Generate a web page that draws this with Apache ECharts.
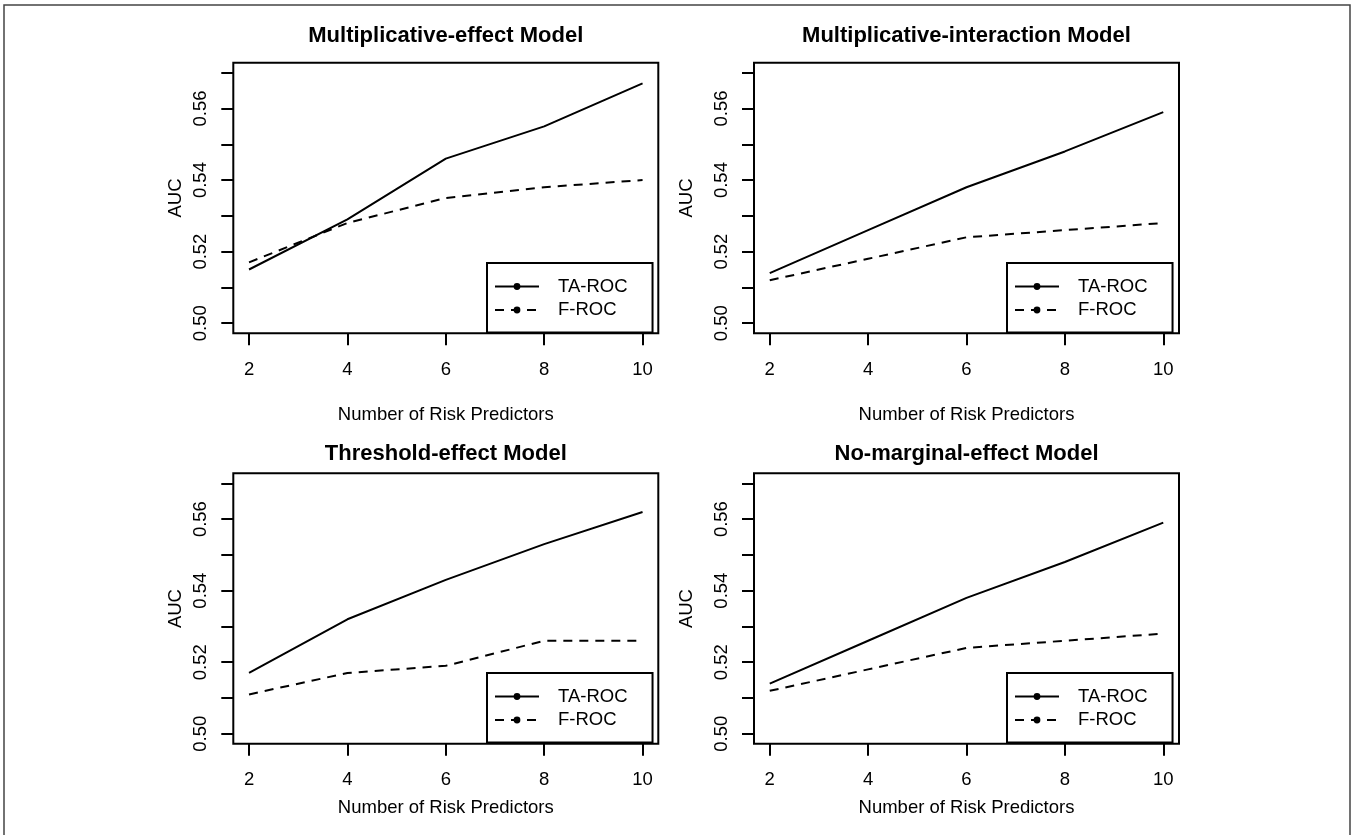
<!DOCTYPE html>
<html><head><meta charset="utf-8">
<script src="https://cdn.jsdelivr.net/npm/echarts@6/dist/echarts.min.js"></script>
<style>html,body{margin:0;padding:0;background:#fff}#c{width:1352px;height:835px}</style>
</head><body><div id="c"></div>
<script>
// ---- data ----
const xValues = [2, 4, 6, 8, 10];
const xTicks = [2, 4, 6, 8, 10];
const yTicks = [0.50, 0.51, 0.52, 0.53, 0.54, 0.55, 0.56, 0.57];
const yLabels = [0.50, 0.52, 0.54, 0.56];
const seriesNames = ['TA-ROC', 'F-ROC'];
const panelTitles = ['Multiplicative-effect Model', 'Multiplicative-interaction Model', 'Threshold-effect Model', 'No-marginal-effect Model'];
const xAxisTitle = 'Number of Risk Predictors';
const yAxisTitle = 'AUC';

const taMultEffect = [0.515, 0.529, 0.546, 0.555, 0.567];
const fMultEffect  = [0.517, 0.528, 0.535, 0.538, 0.540];
const taMultInter  = [0.514, 0.526, 0.538, 0.548, 0.559];
const fMultInter   = [0.512, 0.518, 0.524, 0.526, 0.528];
const taThreshold  = [0.517, 0.532, 0.543, 0.553, 0.562];
const fThreshold   = [0.511, 0.517, 0.519, 0.526, 0.526];
const taNoMarginal = [0.514, 0.526, 0.538, 0.548, 0.559];
const fNoMarginal  = [0.512, 0.518, 0.524, 0.526, 0.528];

// ---- layout ----
const FONT = '"Liberation Sans", Arial, Helvetica, sans-serif';
const GW = 425, GH = 270.5;
const panels = [
  {title: panelTitles[0], ta: taMultEffect, f: fMultEffect, left: 233.3, top: 62.7, titleTop: 24.5, legendLeft: 487, legendTop: 263, yNameGap: 48, xNameGap: 72},
  {title: panelTitles[1], ta: taMultInter,  f: fMultInter,  left: 754,   top: 62.7, titleTop: 24.5, legendLeft: 1007, legendTop: 263, yNameGap: 58, xNameGap: 72},
  {title: panelTitles[2], ta: taThreshold,  f: fThreshold,  left: 233.3, top: 473.3, titleTop: 442.5, legendLeft: 487, legendTop: 673, yNameGap: 48, xNameGap: 55},
  {title: panelTitles[3], ta: taNoMarginal, f: fNoMarginal, left: 754,   top: 473.3, titleTop: 442.5, legendLeft: 1007, legendTop: 673, yNameGap: 58, xNameGap: 55}
];
const txt = {color: '#000', fontFamily: FONT, fontSize: 18.5};
const DASH = [9, 7];

const option = {
  animation: false,
  backgroundColor: '#fff',
  title: panels.map(p => ({
    text: p.title, left: p.left + GW / 2, top: p.titleTop, textAlign: 'center', padding: 0,
    textStyle: {color: '#000', fontFamily: FONT, fontSize: 22, fontWeight: 'bold'}
  })),
  grid: panels.map(p => ({
    left: p.left, top: p.top, width: GW, height: GH, show: true,
    borderColor: '#000', borderWidth: 2, backgroundColor: 'transparent',
    containLabel: false, outerBoundsMode: 'none'
  })),
  xAxis: panels.map((p, i) => ({
    type: 'value', gridIndex: i, min: 1.68, max: 10.32,
    axisLine: {show: false}, splitLine: {show: false},
    axisTick: {show: true, inside: false, length: 12, customValues: xTicks, lineStyle: {color: '#000', width: 2}},
    axisLabel: {show: true, customValues: xTicks, margin: 27, ...txt},
    name: xAxisTitle, nameLocation: 'middle', nameGap: p.xNameGap, nameTextStyle: {...txt}
  })),
  yAxis: panels.map((p, i) => ({
    type: 'value', gridIndex: i, min: 0.4972, max: 0.5728,
    axisLine: {show: false}, splitLine: {show: false},
    axisTick: {show: true, inside: false, length: 12, customValues: yTicks, lineStyle: {color: '#000', width: 2}},
    axisLabel: {show: true, customValues: yLabels, rotate: 90, margin: 23, formatter: v => v.toFixed(2), ...txt},
    name: yAxisTitle, nameLocation: 'middle', nameRotate: 90, nameGap: p.yNameGap, nameTextStyle: {...txt}
  })),
  legend: panels.map(p => ({
    data: seriesNames, orient: 'vertical', left: p.legendLeft, top: p.legendTop,
    itemWidth: 44, itemHeight: 8.5, itemGap: 4.5, padding: [14, 25, 13, 7],
    backgroundColor: '#fff', borderColor: '#000', borderWidth: 2, borderRadius: 0,
    selectedMode: false, z: 10,
    textStyle: {...txt, padding: [0, 0, 0, 14]}
  })),
  series: panels.flatMap((p, i) => [
    {
      name: seriesNames[0], type: 'line', xAxisIndex: i, yAxisIndex: i,
      data: xValues.map((x, k) => [x, p.ta[k]]),
      symbol: 'circle', showSymbol: false, smooth: false,
      lineStyle: {color: '#000', width: 2, type: 'solid'}, itemStyle: {color: '#000'}
    },
    {
      name: seriesNames[1], type: 'line', xAxisIndex: i, yAxisIndex: i,
      data: xValues.map((x, k) => [x, p.f[k]]),
      symbol: 'circle', showSymbol: false, smooth: false,
      lineStyle: {color: '#000', width: 2, type: DASH}, itemStyle: {color: '#000'}
    }
  ]),
  graphic: [{
    type: 'rect', silent: true, z: 100,
    shape: {x: 4, y: 5, width: 1346, height: 845},
    style: {fill: 'none', stroke: '#444', lineWidth: 1.5}
  }]
};
const chart = echarts.init(document.getElementById('c'), null, {renderer: 'canvas'});
chart.setOption(option);
</script>
</body></html>
